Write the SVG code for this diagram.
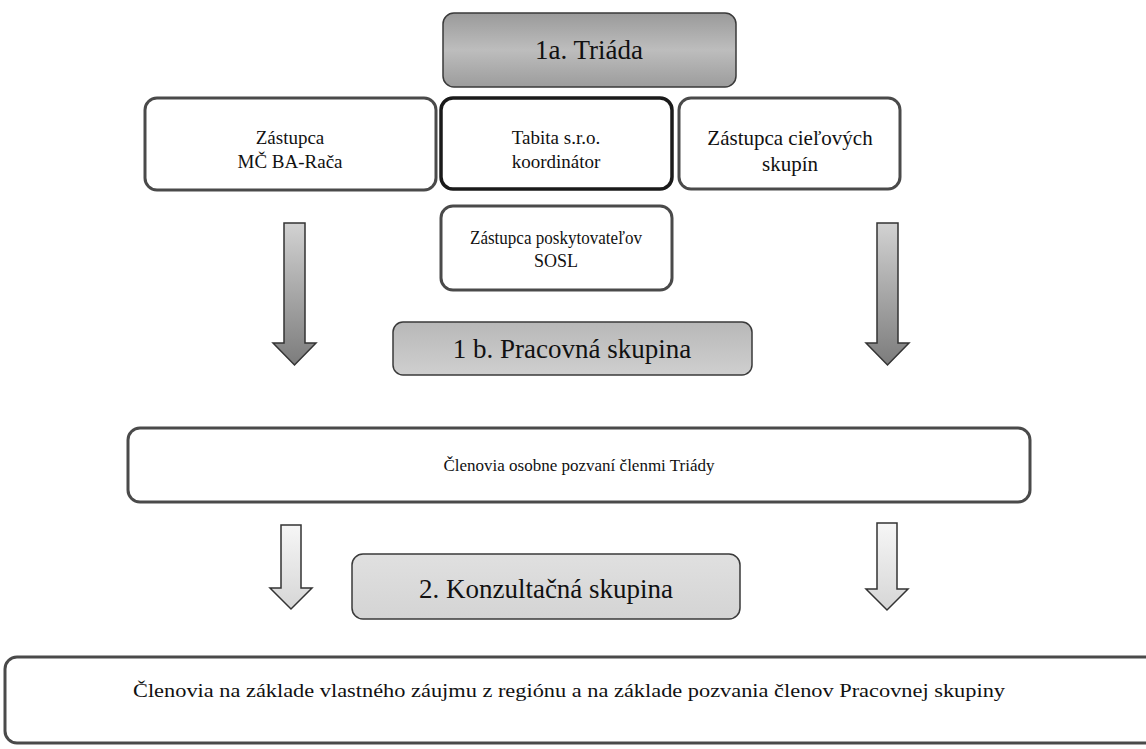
<svg xmlns="http://www.w3.org/2000/svg" width="1146" height="749" viewBox="0 0 1146 749">
<defs>
<linearGradient id="gTri" x1="0" y1="0" x2="0" y2="1"><stop offset="0" stop-color="#9a9a9a"/><stop offset="0.5" stop-color="#bdbdbd"/><stop offset="1" stop-color="#9c9c9c"/></linearGradient>
<linearGradient id="gPrac" x1="0" y1="0" x2="0" y2="1"><stop offset="0" stop-color="#b8b8b8"/><stop offset="1" stop-color="#cfcfcf"/></linearGradient>
<linearGradient id="gKonz" x1="0" y1="0" x2="0" y2="1"><stop offset="0" stop-color="#e0e0e0"/><stop offset="1" stop-color="#d4d4d4"/></linearGradient>
<linearGradient id="gArrow" x1="0" y1="0" x2="0" y2="1"><stop offset="0" stop-color="#d2d2d2"/><stop offset="1" stop-color="#7c7c7c"/></linearGradient>
<linearGradient id="gArrowL" x1="0" y1="0" x2="0" y2="1"><stop offset="0" stop-color="#f6f6f6"/><stop offset="1" stop-color="#d6d6d6"/></linearGradient>
<style>
.box{fill:#fff;stroke:#4a4a4a;stroke-width:3}
.boxb{fill:#fff;stroke:#1a1a1a;stroke-width:3.5}
.hd{stroke:#3a3a3a;stroke-width:1.5}
.t{fill:#111;text-anchor:middle}
.arr{stroke:#333;stroke-width:1.5}
</style>
</defs>
<g font-family="'Liberation Serif', 'Times New Roman', Tinos, serif">
<g id="triada"><rect x="443" y="13" width="293" height="74" rx="11" fill="url(#gTri)" class="hd"/><text class="t" x="589" y="59" font-size="27">1a. Triáda</text></g>
<g id="mc"><rect class="box" x="145" y="98" width="291" height="92" rx="12"/><text class="t" x="290" y="144" font-size="19">Zástupca</text><text class="t" x="290" y="168" font-size="19">MČ BA-Rača</text></g>
<g id="tabita"><rect class="boxb" x="441" y="98" width="231" height="91" rx="12"/><text class="t" x="556" y="144" font-size="19">Tabita s.r.o.</text><text class="t" x="556" y="168" font-size="19">koordinátor</text></g>
<g id="ciel"><rect class="box" x="679" y="98" width="221" height="91" rx="12"/><text class="t" x="790" y="145" font-size="21">Zástupca cieľových</text><text class="t" x="790" y="171" font-size="21">skupín</text></g>
<g id="sosl"><rect class="box" x="441" y="206" width="231" height="84" rx="12"/><text class="t" x="556" y="244" font-size="18" textLength="172" lengthAdjust="spacingAndGlyphs">Zástupca poskytovateľov</text><text class="t" x="556" y="267" font-size="18">SOSL</text></g>
<g id="pracovna"><rect x="393" y="322" width="359" height="53" rx="10" fill="url(#gPrac)" class="hd"/><text class="t" x="572" y="358" font-size="27">1 b. Pracovná skupina</text></g>
<g id="clenovia1"><rect class="box" x="128" y="428" width="902" height="74" rx="12"/><text class="t" x="579" y="471" font-size="17">Členovia osobne pozvaní členmi Triády</text></g>
<g id="konzultacna"><rect x="352" y="554" width="388" height="65" rx="11" fill="url(#gKonz)" class="hd"/><text class="t" x="546" y="598" font-size="27">2. Konzultačná skupina</text></g>
<g id="clenovia2"><rect class="box" x="5" y="657" width="1160" height="86" rx="12"/><text class="t" x="569" y="697" font-size="18" textLength="872" lengthAdjust="spacingAndGlyphs">Členovia na základe vlastného záujmu z regiónu a na základe pozvania členov Pracovnej skupiny</text></g>
</g>
<g id="connectors">
<path class="arr" fill="url(#gArrow)" d="M284 223H305V343H316L294.5 365L273 343H284Z"/>
<path class="arr" fill="url(#gArrow)" d="M877 223H898V343H909L887.5 365L866 343H877Z"/>
<path class="arr" fill="url(#gArrowL)" d="M281 525H301V588H312L291 609L270 588H281Z"/>
<path class="arr" fill="url(#gArrowL)" d="M877 523H897V589H908L887 610L866 589H877Z"/>
</g>
</svg>
